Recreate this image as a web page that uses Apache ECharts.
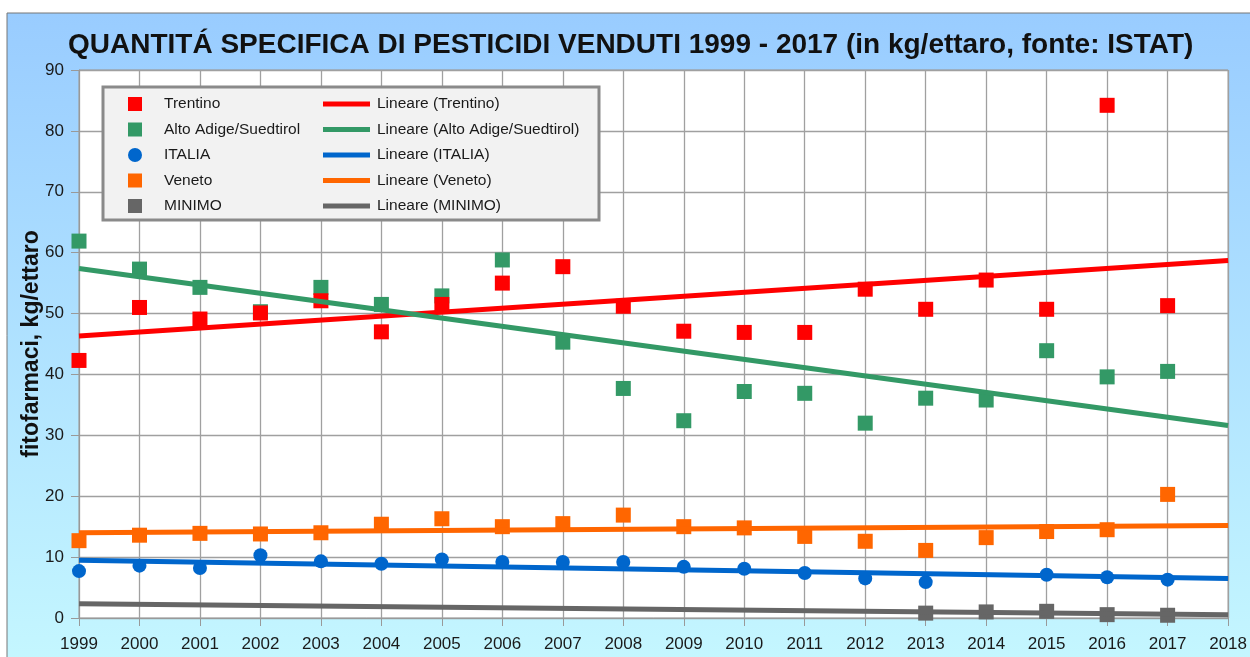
<!DOCTYPE html>
<html>
<head>
<meta charset="utf-8">
<script src="https://cdn.jsdelivr.net/npm/echarts@6/dist/echarts.min.js"></script>
<style>
html,body{margin:0;padding:0;background:#fff;}
#chart{width:1250px;height:657px;}
</style>
</head>
<body>
<div id="chart"></div>
<script>
// ---- data ----
var years = [1999,2000,2001,2002,2003,2004,2005,2006,2007,2008,2009,2010,2011,2012,2013,2014,2015,2016,2017];
var trentino  = [42.3,51.0,49.1,50.1,52.1,47.0,51.5,55.0,57.7,51.2,47.1,46.9,46.9,54.0,50.7,55.5,50.7,84.2,51.3];
var altoAdige = [61.9,57.3,54.3,50.3,54.3,51.5,52.9,58.8,45.3,37.7,32.4,37.2,36.9,32.0,36.1,35.8,43.9,39.6,40.5];
var italia    = [7.7,8.6,8.2,10.3,9.3,8.9,9.6,9.2,9.2,9.2,8.4,8.1,7.4,6.5,5.9,null,7.1,6.7,6.3];
var veneto    = [12.7,13.6,13.9,13.8,14.0,15.4,16.3,15.0,15.5,16.9,15.0,14.8,13.4,12.6,11.1,13.2,14.2,14.5,20.3];
var minimo    = [null,null,null,null,null,null,null,null,null,null,null,null,null,null,0.8,1.0,1.1,0.55,0.45];

var seriesNames = ['Trentino','Alto Adige/Suedtirol','ITALIA','Veneto','MINIMO'];
var trendNames  = ['Lineare (Trentino)','Lineare (Alto Adige/Suedtirol)','Lineare (ITALIA)','Lineare (Veneto)','Lineare (MINIMO)'];
var trendYears  = [1999, 2018];
var trendFrom   = [46.3, 57.4, 9.5, 14.0, 2.35];
var trendTo     = [58.7, 31.6, 6.5, 15.2, 0.55];
var yTicks = [0,10,20,30,40,50,60,70,80,90];

var colors  = ['#ff0000','#339966','#0066cc','#ff6600','#666666'];
var symbols = ['rect','rect','circle','rect','rect'];
var values  = [trentino, altoAdige, italia, veneto, minimo];
var zOrder  = [4, 3, 3, 3, 3];

function pairs(arr){ return years.map(function(y,i){ return [y, arr[i]]; }); }

var series = [];
for (var i = 0; i < seriesNames.length; i++) {
  series.push({
    name: seriesNames[i], type: 'scatter', symbol: symbols[i],
    symbolSize: symbols[i] === 'circle' ? 14 : 15,
    itemStyle: {color: colors[i], opacity: 1},
    data: pairs(values[i]), z: zOrder[i], silent: true
  });
}
for (var j = 0; j < trendNames.length; j++) {
  series.push({
    name: trendNames[j], type: 'line', showSymbol: false, symbol: 'none',
    lineStyle: {color: colors[j], width: 5},
    itemStyle: {color: colors[j]},
    data: [[trendYears[0], trendFrom[j]], [trendYears[1], trendTo[j]]],
    z: 5, silent: true, animation: false
  });
}

var font = 'Liberation Sans, Arial, sans-serif';
var chart = echarts.init(document.getElementById('chart'), null, {renderer: 'canvas'});
chart.setOption({
  animation: false,
  title: {
    text: 'QUANTITÁ SPECIFICA DI PESTICIDI VENDUTI 1999 - 2017 (in kg/ettaro, fonte: ISTAT)',
    left: 63, top: 26,
    textStyle: {fontFamily: font, fontWeight: 'bold', fontSize: 28, color: '#111'}
  },
  graphic: [
    {type: 'rect', z: -10, shape: {x: 7, y: 13, width: 1260, height: 700},
     style: {fill: new echarts.graphic.LinearGradient(0,0,0,1,[{offset:0,color:'#99ccff'},{offset:1,color:'#c8faff'}]), stroke: '#777', lineWidth: 1}},
    {type: 'rect', z: 10, shape: {x: 103, y: 87, width: 496, height: 133},
     style: {fill: '#f2f2f2', stroke: '#8a8a8a', lineWidth: 3}}
  ],
  legend: [
    {data: seriesNames, orient: 'vertical', left: 123, top: 91, z: 20,
     itemWidth: 14, itemHeight: 14, itemGap: 9.5,
     textStyle: {fontFamily: font, fontSize: 15.5, color: '#1a1a1a', padding: [0,0,0,17], lineHeight: 14}},
    {data: trendNames, orient: 'vertical', left: 318, top: 91, z: 20, icon: 'rect',
     itemWidth: 47, itemHeight: 5, itemGap: 9.5,
     textStyle: {fontFamily: font, fontSize: 15.5, color: '#1a1a1a', padding: [0,0,0,2], lineHeight: 14}}
  ],
  grid: {left: 79, right: 20, top: 70, bottom: 39, show: true, backgroundColor: '#ffffff', borderColor: '#999', borderWidth: 1},
  xAxis: {
    type: 'value', min: 1999, max: 2018, interval: 1,
    axisLine: {show: true, onZero: false, lineStyle: {color: '#999', width: 1}},
    axisTick: {show: true, length: 8, lineStyle: {color: '#999'}},
    axisLabel: {fontFamily: font, fontSize: 17, color: '#1a1a1a', margin: 18, formatter: function(v){ return String(v); }},
    splitLine: {show: true, lineStyle: {color: '#a0a0a0', width: 1.3}}
  },
  yAxis: {
    type: 'value', min: yTicks[0], max: yTicks[yTicks.length-1], interval: 10,
    name: 'fitofarmaci, kg/ettaro', nameLocation: 'middle', nameGap: 36, nameRotate: 90,
    nameMoveOverlap: false,
    nameTextStyle: {fontFamily: font, fontWeight: 'bold', fontSize: 23, color: '#111'},
    axisLine: {show: true, lineStyle: {color: '#999', width: 1}},
    axisTick: {show: true, length: 8, lineStyle: {color: '#999'}},
    axisLabel: {fontFamily: font, fontSize: 17, color: '#1a1a1a', margin: 15},
    splitLine: {show: true, lineStyle: {color: '#a0a0a0', width: 1.3}}
  },
  series: series
});
</script>
</body>
</html>
